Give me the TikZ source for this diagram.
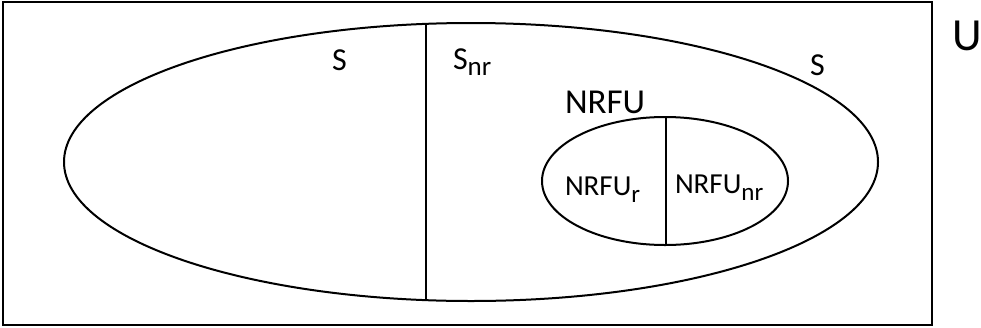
\documentclass[tikz,border=0pt]{standalone}
\usepackage{fontspec}
\setmainfont{Carlito}
\begin{document}
\begin{tikzpicture}[x=1pt,y=-1pt,
  outline/.style={line width=2pt,black},
  lbl/.style={anchor=base west,inner sep=0pt,outer sep=0pt},
  setlbl/.style={lbl,font=\fontsize{32}{32}\selectfont},
  biglbl/.style={lbl,font=\fontsize{35}{35}\selectfont},
  sublbl/.style={lbl,font=\fontsize{29}{29}\selectfont},
  unilbl/.style={lbl,font=\fontsize{46}{46}\selectfont}]
\useasboundingbox (0,0) rectangle (981,327);
% universe
\draw[outline] (3,2) rectangle (932,325);
% set S and its partition
\draw[outline] (471,162) ellipse [x radius=407, y radius=139];
\coordinate (stop) at (426,24);
\coordinate (sbot) at (426,300);
\draw[outline] (stop) -- (sbot);
% subset NRFU and its partition
\draw[outline] (665,181) ellipse [x radius=123, y radius=64];
\coordinate (ntop) at (666,117);
\coordinate (nbot) at (666,245);
\draw[outline] (ntop) -- (nbot);
% labels
\node[setlbl] (sl) at (332,70) {S};
\node[setlbl] (snr) at (453,69) {S\raisebox{-6pt}{\fontsize{27}{27}\selectfont nr}};
\node[setlbl] (sr) at (810,75) {S};
\node[unilbl] (u) at (952,50) {U};
\node[biglbl] (nrfu) at (565,113) {NRFU};
\node[sublbl] (nrfur) at (565,195) {NRFU\raisebox{-7pt}{\fontsize{25}{25}\selectfont r}};
\node[sublbl] (nrfunr) at (675,193) {NRFU\raisebox{-7pt}{\fontsize{25}{25}\selectfont nr}};
\end{tikzpicture}
\end{document}
